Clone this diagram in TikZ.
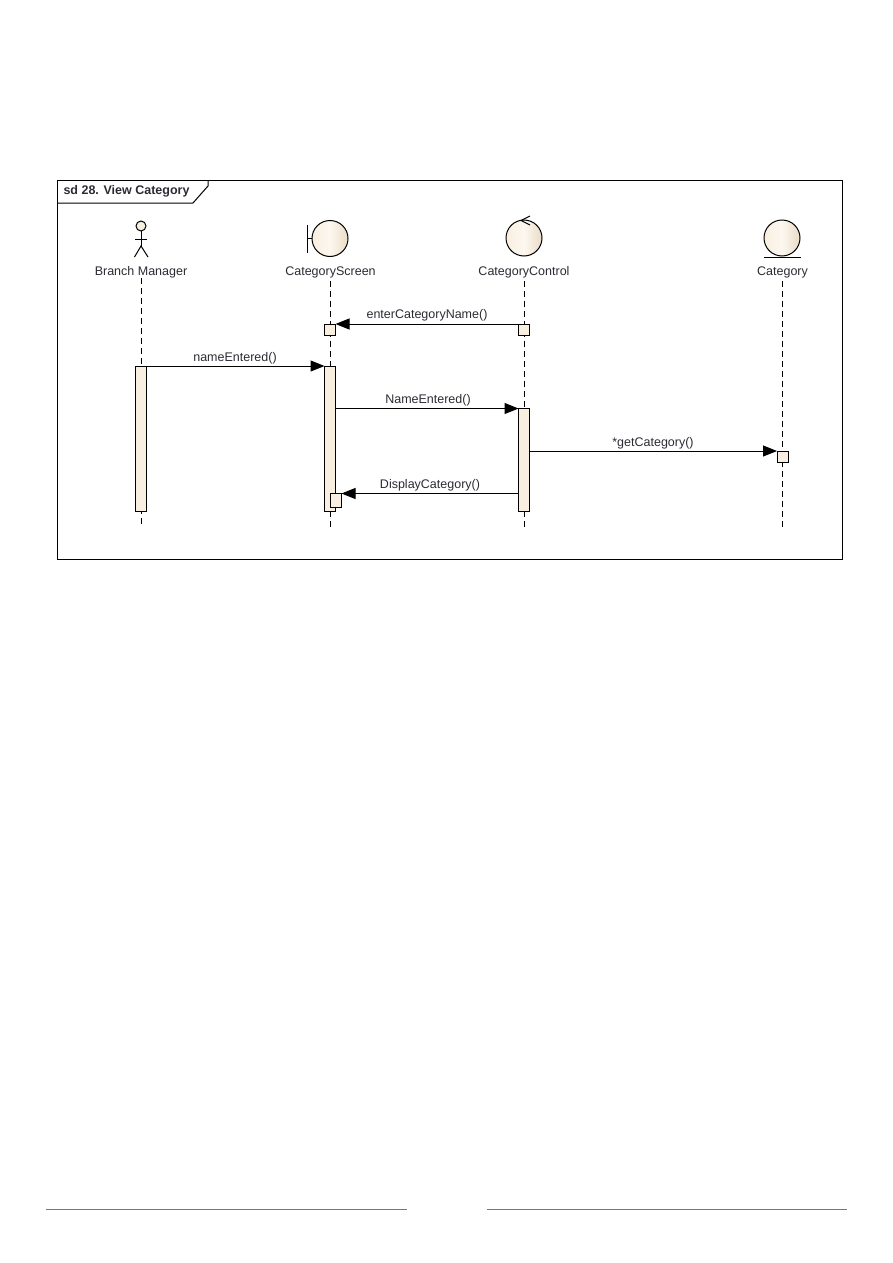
\documentclass[tikz,border=0pt]{standalone}
\usepackage{fontspec}
\setmainfont{Liberation Sans}
\usetikzlibrary{arrows.meta,calc}
\definecolor{umlfill}{HTML}{F9EFE0}
\definecolor{umlshade}{HTML}{EADCC6}
\definecolor{umlline}{HTML}{000000}
\definecolor{umltext}{HTML}{2B2B33}
\definecolor{rulecolor}{HTML}{4A80C0}
\tikzset{
  x=1pt,y=-1pt,
  every node/.style={inner sep=0pt,outer sep=0pt},
  txt/.style={text=umltext,font=\fontsize{12.5}{14}\selectfont},
  lifeline/.style={draw=umlline,line width=1pt,dash pattern=on 5.5pt off 4.5pt},
  actbar/.style={draw=umlline,line width=1pt,fill=umlfill,minimum width=11pt,anchor=north},
  msg/.style={draw=umlline,line width=1pt,-{Triangle[length=14pt,width=11pt,color=black]}},
  sphere/.style={circle,draw=umlline,line width=1pt,minimum size=36pt,left color=umlfill,right color=umlshade,middle color=umlfill!50!white},
  glyph/.style={draw=umlline,line width=1pt},
  footrule/.style={draw=rulecolor,line width=1pt}
}
\begin{document}
\begin{tikzpicture}
\useasboundingbox (0,0) rectangle (893,1263);

% Frame with its name tab
\draw[draw=umlline,line width=1pt] (57.5,180) rectangle (842.5,559);
\draw[draw=umlline,line width=1pt] (57.5,203) -- (193,203) -- (208,186) -- (208,180);
\node[txt,font=\fontsize{12.5}{14}\selectfont\bfseries,anchor=west] (frametitle) at (63.5,191.5) {sd 28. View Category};

% Participant captions
\node[txt] (actorlabel) at (141,272) {Branch Manager};
\node[txt] (screenlabel) at (330.5,272) {CategoryScreen};
\node[txt] (controllabel) at (524,272) {CategoryControl};
\node[txt] (entitylabel) at (782.5,272) {Category};

% Lifeline ends
\coordinate (actorend) at (141,527);
\coordinate (screenend) at (330.5,529);
\coordinate (controlend) at (524,529);
\coordinate (entityend) at (782.5,529);
\coordinate (actortop) at (141,278);
\coordinate (screentop) at (330.5,281);
\coordinate (controltop) at (524,281);
\coordinate (entitytop) at (782.5,281);
\draw[lifeline] (actortop) -- (actorend);
\draw[lifeline] (screentop) -- (screenend);
\draw[lifeline] (controltop) -- (controlend);
\draw[lifeline] (entitytop) -- (entityend);

% Actor figure
\node[circle,draw=umlline,line width=1pt,fill=umlfill,minimum size=10pt] (head) at (141,226) {};
\coordinate (hip) at (141,246);
\coordinate (armL) at (135,239);
\coordinate (armR) at (147,239);
\coordinate (legL) at (134.5,257);
\coordinate (legR) at (148,257);
\draw[glyph] (head.south) -- (hip);
\draw[glyph] (armL) -- (armR);
\draw[glyph] (legL) -- (hip) -- (legR);

% Boundary symbol
\node[sphere] (boundary) at (330,238.5) {};
\coordinate (bartop) at (307.5,225);
\coordinate (barbot) at (307.5,253);
\coordinate (barmid) at (307.5,238.5);
\draw[glyph] (bartop) -- (barbot);
\draw[glyph] (barmid) -- (boundary.west);

% Control symbol
\node[sphere] (control) at (524,238) {};
\coordinate (ctrlA) at (530,216);
\coordinate (ctrlB) at (521,220.5);
\coordinate (ctrlC) at (530,225);
\draw[glyph] (ctrlA) -- (ctrlB) -- (ctrlC);

% Entity symbol
\node[sphere] (entity) at (782,238) {};
\coordinate (baseL) at (764,257);
\coordinate (baseR) at (801,257);
\draw[glyph] (baseL) -- (baseR);

% Activation bars
\node[actbar,minimum height=145pt] (actorbar) at (141,366) {};
\node[actbar,minimum height=145pt] (screenbar) at (330,366) {};
\node[actbar,minimum height=102.5pt] (controlbar) at (524,408.5) {};
\node[actbar,minimum height=11pt] (screenstub) at (330,324) {};
\node[actbar,minimum height=11pt] (controlstub) at (524,324) {};
\node[actbar,minimum height=11pt] (entitystub) at (782.5,451) {};
\node[actbar,minimum height=13.5pt] (screenself) at (336,493.5) {};

% Messages
\draw[msg] (controlstub.north west) -- (screenstub.north east);
\draw[msg] (actorbar.north east) -- (screenbar.north west);
\draw[msg] (screenbar.east |- controlbar.north) -- (controlbar.north west);
\draw[msg] (controlbar.east |- entitystub.north) -- (entitystub.north west);
\draw[msg] (controlbar.west |- screenself.north) -- (screenself.north east);

% Message captions
\node[txt] (m1) at (427,315.5) {enterCategoryName()};
\node[txt] (m2) at (235,358) {nameEntered()};
\node[txt] (m3) at (428,400.5) {NameEntered()};
\node[txt] (m4) at (653,443) {*getCategory()};
\node[txt] (m5) at (430,485.5) {DisplayCategory()};

% Footer rules
\coordinate (ruleAa) at (46,1209);
\coordinate (ruleAb) at (407,1209);
\coordinate (ruleBa) at (487,1209);
\coordinate (ruleBb) at (847,1209);
\draw[footrule] (ruleAa) -- (ruleAb);
\draw[footrule] (ruleBa) -- (ruleBb);
\end{tikzpicture}
\end{document}
